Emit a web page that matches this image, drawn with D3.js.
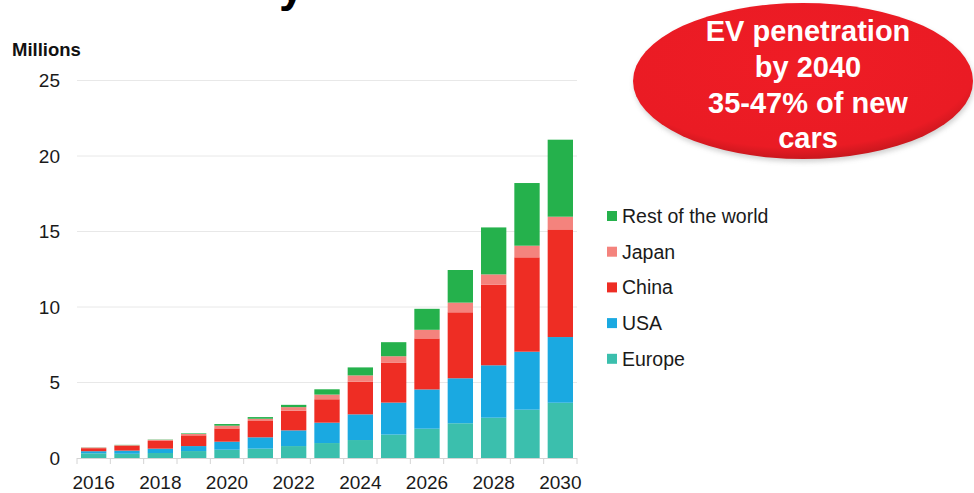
<!DOCTYPE html>
<html>
<head>
<meta charset="utf-8">
<script src="https://cdn.jsdelivr.net/npm/d3@7"></script>
<style>
  body { margin: 0; background: #fff; }
  svg { display: block; font-family: "Liberation Sans", Arial, sans-serif; }
</style>
</head>
<body>
<div class="graph"></div>
<script>
// Data (millions of EVs sold per year)
var years = ["2016","2017","2018","2019","2020","2021","2022","2023","2024","2025","2026","2027","2028","2029","2030"];
var europe = [0.31, 0.28, 0.33, 0.46, 0.55, 0.62, 0.79, 0.99, 1.19, 1.55, 1.94, 2.30, 2.67, 3.20, 3.66];
var usa    = [0.14, 0.21, 0.29, 0.33, 0.53, 0.75, 1.04, 1.35, 1.70, 2.12, 2.60, 2.98, 3.47, 3.84, 4.35];
var china  = [0.20, 0.31, 0.51, 0.71, 0.88, 1.08, 1.30, 1.55, 2.16, 2.63, 3.38, 4.37, 5.34, 6.25, 7.13];
var japan  = [0.04, 0.05, 0.07, 0.09, 0.18, 0.15, 0.24, 0.31, 0.42, 0.44, 0.57, 0.64, 0.68, 0.77, 0.84];
var rest   = [0.01, 0.02, 0.02, 0.04, 0.11, 0.11, 0.15, 0.35, 0.53, 0.93, 1.39, 2.16, 3.11, 4.15, 5.10];

var seriesNames = ["Europe", "USA", "China", "Japan", "Rest of the world"];
var seriesColors = ["#3bbfad", "#1aa9e1", "#ee2d24", "#f4837d", "#25b14c"];
var yTicks = [0, 5, 10, 15, 20, 25];
var xLabels = ["2016","2018","2020","2022","2024","2026","2028","2030"];
var calloutLines = ["EV penetration", "by 2040", "35-47% of new", "cars"];

graph();

function graph() {
  const W = 974, H = 493;
  const left = 77, right = 577, top = 80.5, bottom = 458;

  var svg = d3.select(".graph")
    .append("svg")
    .attr("width", W)
    .attr("height", H);

  // cut-off title above the picture (only a descender shows)
  svg.append("text")
    .attr("x", 279).attr("y", 1)
    .style("font-size", "46px").style("font-weight", "bold")
    .text("y");

  // build the table for stacking
  var table = years.map(function(y, i) {
    return {year: y, "Europe": europe[i], "USA": usa[i], "China": china[i],
            "Japan": japan[i], "Rest of the world": rest[i]};
  });
  var stacked = d3.stack().keys(seriesNames)(table);

  var x = d3.scaleBand()
    .domain(years)
    .range([left, right])
    .paddingInner(0.24)
    .paddingOuter(0.12);

  var y = d3.scaleLinear()
    .domain([0, 25])
    .range([bottom, top]);

  var color = d3.scaleOrdinal().domain(seriesNames).range(seriesColors);

  // gridlines
  svg.append("g")
    .selectAll("line")
    .data(yTicks.filter(d => d > 0))
    .enter().append("line")
      .attr("x1", left).attr("x2", right)
      .attr("y1", d => y(d)).attr("y2", d => y(d))
      .style("stroke", "#e8e8e8")
      .style("stroke-width", 1);

  // y labels
  svg.append("g")
    .selectAll("text")
    .data(yTicks)
    .enter().append("text")
      .attr("x", 60)
      .attr("y", d => y(d))
      .attr("dy", "0.36em")
      .attr("text-anchor", "end")
      .style("font-size", "19px")
      .style("fill", "#1a1a1a")
      .text(d => d);

  svg.append("text")
    .attr("x", 12).attr("y", 56)
    .style("font-size", "18.5px").style("font-weight", "bold")
    .style("fill", "#111")
    .text("Millions");

  // bars
  svg.append("g")
    .selectAll("g")
    .data(stacked)
    .enter().append("g")
      .style("fill", d => color(d.key))
    .selectAll("rect")
    .data(d => d)
    .enter().append("rect")
      .attr("x", d => x(d.data.year))
      .attr("y", d => y(d[1]))
      .attr("width", x.bandwidth())
      .attr("height", d => y(d[0]) - y(d[1]));

  // x axis: baseline with ticks on band boundaries
  var step = x.step();
  var axis = svg.append("g");
  axis.append("line")
    .attr("x1", left).attr("x2", right)
    .attr("y1", bottom + 0.5).attr("y2", bottom + 0.5)
    .style("stroke", "#d4d4d4");
  axis.selectAll("line.tick")
    .data(years.concat(["end"]))
    .enter().append("line")
      .attr("class", "tick")
      .attr("x1", (d, i) => left + i * step)
      .attr("x2", (d, i) => left + i * step)
      .attr("y1", bottom)
      .attr("y2", bottom + 6)
      .style("stroke", "#d4d4d4");
  axis.selectAll("text")
    .data(xLabels)
    .enter().append("text")
      .attr("x", d => x(d) + x.bandwidth() / 2)
      .attr("y", 489)
      .attr("text-anchor", "middle")
      .style("font-size", "19px")
      .style("fill", "#1a1a1a")
      .text(d => d);

  // legend (top to bottom: rest of world first)
  var legendOrder = seriesNames.slice().reverse();
  var legend = svg.append("g")
    .selectAll("g")
    .data(legendOrder)
    .enter().append("g")
      .attr("transform", (d, i) => "translate(607," + (216 + i * 35.7) + ")");
  legend.append("rect")
    .attr("x", 0).attr("y", -5)
    .attr("width", 10).attr("height", 10)
    .style("fill", d => color(d));
  legend.append("text")
    .attr("x", 15).attr("y", 0).attr("dy", "0.36em")
    .style("font-size", "19.5px")
    .style("fill", "#1a1a1a")
    .text(d => d);

  // red callout ellipse
  var defs = svg.append("defs");
  var grad = defs.append("radialGradient")
    .attr("id", "redGrad")
    .attr("cx", "48%").attr("cy", "40%").attr("r", "62%");
  grad.append("stop").attr("offset", "0%").attr("stop-color", "#ef1c25");
  grad.append("stop").attr("offset", "85%").attr("stop-color", "#ea1b24");
  grad.append("stop").attr("offset", "100%").attr("stop-color", "#c0161c");
  var blur = defs.append("filter").attr("id", "shadow")
    .attr("x", "-10%").attr("y", "-10%").attr("width", "120%").attr("height", "130%");
  blur.append("feGaussianBlur").attr("stdDeviation", 2.5);

  svg.append("ellipse")
    .attr("cx", 804).attr("cy", 84).attr("rx", 170).attr("ry", 78)
    .style("fill", "#999").style("opacity", 0.45)
    .attr("filter", "url(#shadow)");
  svg.append("ellipse")
    .attr("cx", 803).attr("cy", 81).attr("rx", 170).attr("ry", 78)
    .style("fill", "url(#redGrad)");

  svg.append("g")
    .selectAll("text")
    .data(calloutLines)
    .enter().append("text")
      .attr("x", 808)
      .attr("y", (d, i) => 41 + i * 35.8)
      .attr("text-anchor", "middle")
      .style("font-size", "29px")
      .style("font-weight", "bold")
      .style("fill", "#fff")
      .text(d => d);
}
</script>
</body>
</html>
